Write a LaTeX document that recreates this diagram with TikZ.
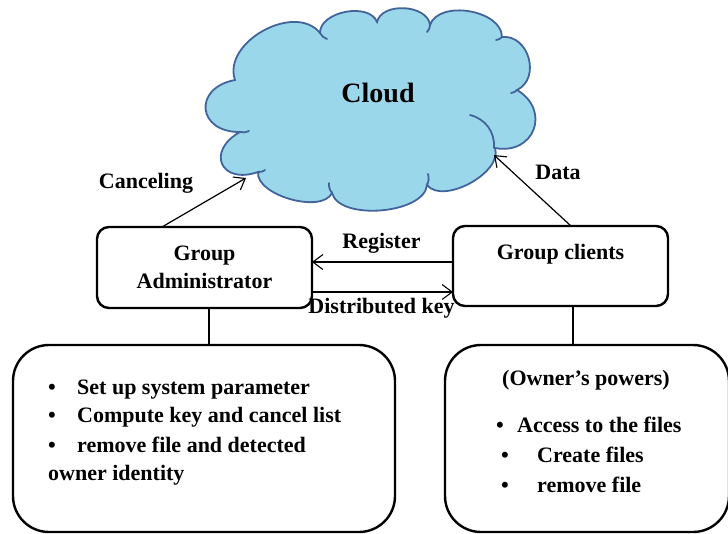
\documentclass[tikz,border=0pt]{standalone}
\usepackage{fontspec}
\setmainfont{Liberation Serif}
\usetikzlibrary{arrows.meta}
\definecolor{cloudfill}{RGB}{155,215,234}
\definecolor{cloudline}{RGB}{66,100,155}
\begin{document}
\begin{tikzpicture}[x=1pt,y=-1pt,
  txt/.style={font=\fontsize{22}{28}\selectfont\bfseries, inner sep=0pt},
  box/.style={draw, line width=2.4pt, rounded corners=12pt, txt, align=center, outer sep=0pt},
  bigbox/.style={draw, line width=2.4pt, rounded corners=36pt, outer sep=0pt},
  conn/.style={line width=1.2pt},
  arr/.style={conn, -{Straight Barb[length=10pt,width=15pt,line width=1.1pt]}},
  cl/.style={cloudline, line width=1.8pt, line cap=round},
  bmp/.style args={#1/#2}{bend left=#1, looseness=#2}]
\useasboundingbox (0,0) rectangle (728,533);
% cloud
\filldraw[cl, fill=cloudfill]
  (235,80) to[bmp=80/1.05] (320,33) to[bmp=80/0.95] (377,22) to[bmp=80/1.0] (430,25)
  to[bmp=80/0.95] (502,37) to[bmp=80/1.25] (517,90) to[bmp=80/1.65] (495,148)
  to[bmp=80/0.85] (427,185) to[bmp=80/0.78] (332,193) to[bmp=80/0.78] (258,172)
  to[bmp=85/2.3] (240,132) to[bmp=85/2.1] (235,80) -- cycle;
\draw[cl] (470,115) to[bend left=40] (494,148);
\draw[cl] (320,33) to[bend right=20] (327,39);
\draw[cl] (430,25) to[bend left=20] (427,32);
\draw[cl] (502,37) to[bend left=20] (496,40);
\draw[cl] (517,90) to[bend left=20] (511,93);
\draw[cl] (240,132) to[bend right=20] (249,131);
\draw[cl] (258,172) to[bend right=20] (265,170);
\draw[cl] (332,193) to[bend left=20] (329,183);
\draw[cl] (427,185) to[bend right=20] (428,174);
\node[txt, font=\fontsize{28}{32}\selectfont\bfseries] (cloud) at (378,93) {Cloud};
\coordinate (cloudL) at (246,178);
\coordinate (cloudR) at (494,155);
% boxes
\node[box, minimum width=215pt, minimum height=81pt] (admin) at (204.5,267.5) {Group\\Administrator};
\node[box, minimum width=215pt, minimum height=80pt] (clients) at (560.5,266) {Group clients\\\phantom{Administrator}};
\node[bigbox, minimum width=382pt, minimum height=187pt] (leftbox) at (204,438.5) {};
\node[bigbox, minimum width=284pt, minimum height=187pt] (rightbox) at (587,438.5) {};
% connectors
\draw[arr] (admin.north -| 162,0) -- (cloudL);
\draw[arr] (clients.north -| 571,0) -- (cloudR);
\draw[arr] (clients.west |- 0,262) -- (admin.east |- 0,262);
\draw[arr] (admin.east |- 0,292) -- (clients.west |- 0,292);
\draw[conn] (admin.south -| 209,0) -- (leftbox.north -| 209,0);
\draw[conn] (clients.south -| 573,0) -- (rightbox.north -| 573,0);
% labels
\node[txt] (lcancel) at (146,183) {Canceling};
\node[txt] (ldata) at (558,172) {Data};
\node[txt] (lreg) at (381.5,243) {Register};
\node[txt] (ldist) at (381.5,308) {Distributed key};
% left box text
\node[txt, anchor=base west] (l1) at (48,394) {\makebox[29pt][l]{•}Set up system parameter};
\node[txt, anchor=base west] (l2) at (48,422) {\makebox[29pt][l]{•}Compute key and cancel list};
\node[txt, anchor=base west] (l3) at (48,452) {\makebox[29pt][l]{•}remove file and detected};
\node[txt, anchor=base west] (l4) at (48,480) {owner identity};
% right box text
\node[txt, anchor=base west] (r0) at (502,385) {(Owner’s powers)};
\node[txt, anchor=base west] (r1) at (496,432) {\makebox[21pt][l]{•}Access to the files};
\node[txt, anchor=base west] (r2) at (501,462) {\makebox[36pt][l]{•}Create files};
\node[txt, anchor=base west] (r3) at (501,492) {\makebox[36pt][l]{•}remove file};
\end{tikzpicture}
\end{document}
